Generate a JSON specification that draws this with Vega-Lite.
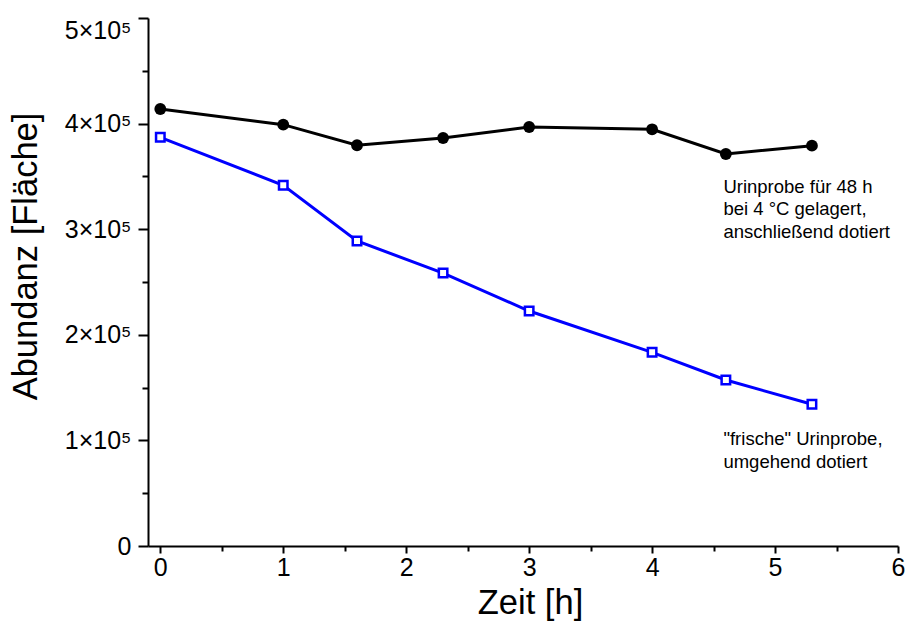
{
  "$schema": "https://vega.github.io/schema/vega-lite/v6.json",
  "width": 750,
  "height": 528,
  "autosize": {"type": "none"},
  "padding": {"left": 148, "top": 18, "right": 8, "bottom": 75},
  "background": "white",
  "config": {
    "view": {"stroke": null},
    "font": "Liberation Sans",
    "axis": {
      "grid": false,
      "domainColor": "black",
      "tickColor": "black",
      "labelColor": "black",
      "titleColor": "black",
      "domainWidth": 2,
      "tickWidth": 2,
      "labelFont": "Liberation Sans",
      "titleFont": "Liberation Sans",
      "labelFontSize": 25,
      "titleFontSize": 34.5,
      "titleFontWeight": "normal",
      "labelOverlap": false,
      "labelFlush": false,
      "labelBound": false
    }
  },
  "datasets": {
    "series": [
      {"t": 0, "abundance": 413800, "series": "gelagert"},
      {"t": 1, "abundance": 399000, "series": "gelagert"},
      {"t": 1.6, "abundance": 379500, "series": "gelagert"},
      {"t": 2.3, "abundance": 386400, "series": "gelagert"},
      {"t": 3, "abundance": 396800, "series": "gelagert"},
      {"t": 4, "abundance": 394600, "series": "gelagert"},
      {"t": 4.6, "abundance": 371200, "series": "gelagert"},
      {"t": 5.3, "abundance": 379100, "series": "gelagert"},
      {"t": 0, "abundance": 387000, "series": "frisch"},
      {"t": 1, "abundance": 341600, "series": "frisch"},
      {"t": 1.6, "abundance": 288800, "series": "frisch"},
      {"t": 2.3, "abundance": 258500, "series": "frisch"},
      {"t": 3, "abundance": 222500, "series": "frisch"},
      {"t": 4, "abundance": 183400, "series": "frisch"},
      {"t": 4.6, "abundance": 157200, "series": "frisch"},
      {"t": 5.3, "abundance": 134200, "series": "frisch"}
    ],
    "notes": [
      {"t": 4.58, "abundance": 334500, "label": "Urinprobe für 48 h\nbei 4 °C gelagert,\nanschließend dotiert"},
      {"t": 4.58, "abundance": 95600, "label": "\"frische\" Urinprobe,\numgehend dotiert"}
    ]
  },
  "layer": [
    {
      "data": {"name": "series"},
      "mark": {"type": "line", "strokeWidth": 3},
      "encoding": {
        "x": {
          "field": "t",
          "type": "quantitative",
          "scale": {"domain": [-0.1, 6], "nice": false, "zero": false},
          "axis": {
            "title": "Zeit [h]",
            "values": [0, 0.5, 1, 1.5, 2, 2.5, 3, 3.5, 4, 4.5, 5, 5.5, 6],
            "labelExpr": "datum.value % 1 === 0 ? format(datum.value, 'd') : ''",
            "tickSize": {"condition": {"test": "datum.value % 1 !== 0", "value": 5}, "value": 7},
            "labelPadding": 2,
            "titleX": 382,
            "titleY": 67,
            "titleBaseline": "alphabetic",
            "titleAlign": "center"
          }
        },
        "y": {
          "field": "abundance",
          "type": "quantitative",
          "scale": {"domain": [0, 500000], "nice": false},
          "axis": {
            "title": "Abundanz [Fläche]",
            "values": [0, 50000, 100000, 150000, 200000, 250000, 300000, 350000, 400000, 450000, 500000],
            "labelExpr": "datum.value === 0 ? '0' : (datum.value % 100000 === 0 ? format(datum.value / 100000, 'd') + '×10⁵' : '')",
            "tickSize": {"condition": {"test": "datum.value % 100000 !== 0", "value": 6}, "value": 10},
            "labelPadding": 7,
            "labelBaseline": {"condition": {"test": "datum.value === 500000", "value": "top"}, "value": "middle"},
            "titleAngle": -90,
            "titleX": -112,
            "titleY": 238,
            "titleBaseline": "alphabetic",
            "titleAlign": "center"
          }
        },
        "color": {
          "field": "series",
          "type": "nominal",
          "scale": {"domain": ["gelagert", "frisch"], "range": ["#000000", "#0000ff"]},
          "legend": null
        }
      }
    },
    {
      "data": {"name": "series"},
      "transform": [{"filter": "datum.series === 'gelagert'"}],
      "mark": {"type": "point", "shape": "circle", "filled": true, "color": "#000000", "size": 140, "opacity": 1},
      "encoding": {
        "x": {"field": "t", "type": "quantitative"},
        "y": {"field": "abundance", "type": "quantitative"}
      }
    },
    {
      "data": {"name": "series"},
      "transform": [{"filter": "datum.series === 'frisch'"}],
      "mark": {"type": "point", "shape": "square", "filled": false, "fill": "white", "fillOpacity": 1, "stroke": "#0000ff", "strokeWidth": 2.5, "size": 72, "opacity": 1},
      "encoding": {
        "x": {"field": "t", "type": "quantitative"},
        "y": {"field": "abundance", "type": "quantitative"}
      }
    },
    {
      "data": {"name": "notes"},
      "mark": {"type": "text", "align": "left", "baseline": "alphabetic", "lineBreak": "\n", "lineHeight": 22.5, "fontSize": 18.5, "font": "Liberation Sans", "color": "#000000"},
      "encoding": {
        "x": {"field": "t", "type": "quantitative"},
        "y": {"field": "abundance", "type": "quantitative"},
        "text": {"field": "label"}
      }
    }
  ]
}
